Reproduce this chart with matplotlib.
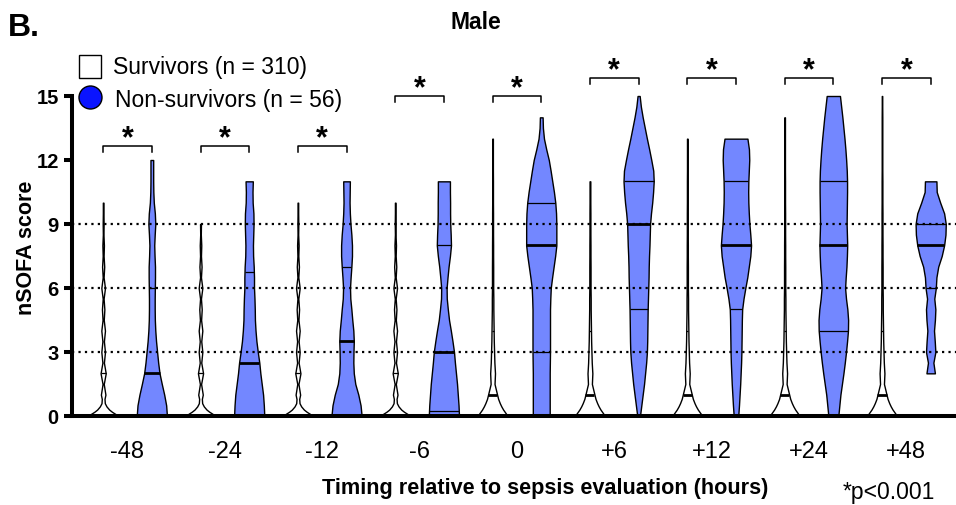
import numpy as np
import matplotlib.pyplot as plt
from matplotlib.patches import Rectangle, Circle

plt.rcParams['font.family'] = ['Liberation Sans', 'DejaVu Sans']

# ---------------- data ----------------
timepoints = ['-48', '-24', '-12', '-6', '0', '+6', '+12', '+24', '+48']

# survivors: density shape (relative width) before / after sepsis evaluation
surv_levels = [0, 0.1, 0.2, 0.3, 0.45, 0.6, 0.8, 1, 1.5, 2, 2.5, 3, 3.5, 4, 4.5,
               5, 5.5, 6, 6.5, 7, 7.5, 8, 8.5, 9, 9.5, 10, 10.5, 11, 11.5, 12,
               12.5, 13, 13.5, 14, 14.5, 15]
surv_dens_pre = [1.0, 0.8, 0.58, 0.4, 0.22, 0.11, 0.09, 0.15, 0.04, 0.17, 0.05,
                 0.12, 0.05, 0.12, 0.04, 0.08, 0.03, 0.12, 0.03, 0.07, 0.03,
                 0.05, 0.02, 0.03, 0.02, 0.02, 0.02, 0.02, 0.02, 0.02, 0.02,
                 0.02, 0.02, 0.02, 0.02, 0.02]
surv_dens_post = [1.0, 0.9, 0.8, 0.7, 0.58, 0.48, 0.37, 0.3, 0.13, 0.16, 0.12,
                  0.1, 0.08, 0.07, 0.06, 0.05, 0.05, 0.04, 0.04, 0.04, 0.035,
                  0.035, 0.03, 0.03, 0.03, 0.025, 0.025, 0.025, 0.02, 0.02,
                  0.02, 0.02, 0.02, 0.02, 0.015, 0.015]
surv_max = [10, 9, 10, 10, 13, 11, 13, 14, 15]
surv_q1 = [0, 0, 0, 0, 0, 0, 0, 0, 0]
surv_median = [0, 0, 0, 0, 1, 1, 1, 1, 1]
surv_q3 = [2, 2, 2, 2, 4, 4, 4, 4, 4]

# non-survivors: density sampled on the half-point score grid
score_grid = [0, 0.5, 1, 1.5, 2, 2.5, 3, 3.5, 4, 4.5, 5, 5.5, 6, 6.5, 7, 7.5,
              8, 8.5, 9, 9.5, 10, 10.5, 11, 11.5, 12, 12.5, 13, 13.5, 14,
              14.5, 15]
ns_min = [0, 0, 0, 0, 0, 0, 0, 0, 2]
ns_max = [12, 11, 11, 11, 14, 15, 13, 15, 11]
ns_q1 = [0, 0, 0, 0.25, 3, 5, 5, 4, 6]
ns_median = [2, 2.5, 3.5, 3, 8, 9, 8, 8, 8]
ns_q3 = [6, 6.75, 7, 8, 10, 11, 11, 11, 9]

ns_dens_m48 = [1.0, 0.95, 0.82, 0.66, 0.51, 0.42, 0.35, 0.28, 0.23, 0.2, 0.19,
               0.19, 0.2, 0.21, 0.21, 0.18, 0.16, 0.19, 0.23, 0.2, 0.13, 0.1,
               0.09, 0.09, 0.09]
ns_dens_m24 = [1.0, 0.97, 0.92, 0.83, 0.74, 0.67, 0.57, 0.48, 0.42, 0.38, 0.37,
               0.35, 0.32, 0.32, 0.3, 0.26, 0.25, 0.27, 0.29, 0.28, 0.23, 0.22,
               0.24]
ns_dens_m12 = [1.0, 0.93, 0.78, 0.58, 0.48, 0.45, 0.46, 0.48, 0.45, 0.38, 0.32,
               0.25, 0.23, 0.27, 0.32, 0.36, 0.36, 0.32, 0.26, 0.22, 0.2, 0.21,
               0.22]
ns_dens_m6 = [1.0, 0.97, 0.92, 0.87, 0.8, 0.73, 0.67, 0.57, 0.46, 0.34, 0.26,
              0.19, 0.18, 0.24, 0.31, 0.4, 0.47, 0.45, 0.42, 0.41, 0.41, 0.4,
              0.4]
ns_dens_0 = [0.56, 0.56, 0.56, 0.56, 0.56, 0.57, 0.58, 0.58, 0.58, 0.58, 0.58,
             0.6, 0.63, 0.72, 0.82, 0.92, 1.0, 1.0, 1.0, 0.98, 0.93, 0.84,
             0.73, 0.62, 0.5, 0.33, 0.18, 0.11, 0.09]
ns_dens_p6 = [0.09, 0.18, 0.27, 0.36, 0.43, 0.5, 0.55, 0.57, 0.58, 0.59, 0.6,
              0.62, 0.64, 0.66, 0.67, 0.69, 0.72, 0.74, 0.76, 0.82, 0.9, 0.96,
              1.0, 0.97, 0.84, 0.7, 0.55, 0.41, 0.27, 0.15, 0.07]
ns_dens_p12 = [0.15, 0.2, 0.24, 0.28, 0.31, 0.34, 0.36, 0.37, 0.38, 0.39, 0.41,
               0.5, 0.62, 0.75, 0.85, 0.95, 1.0, 0.95, 0.89, 0.85, 0.82, 0.81,
               0.82, 0.85, 0.88, 0.86, 0.76]
ns_dens_p24 = [0.33, 0.4, 0.47, 0.57, 0.67, 0.76, 0.84, 0.91, 0.97, 0.98, 0.93,
               0.84, 0.78, 0.82, 0.87, 0.9, 0.92, 0.9, 0.88, 0.89, 0.9, 0.91,
               0.91, 0.89, 0.85, 0.8, 0.74, 0.67, 0.6, 0.52, 0.44]
ns_dens_p48 = [0.28, 0.18, 0.31, 0.27, 0.22, 0.28, 0.31, 0.24, 0.34, 0.38, 0.5,
               0.73, 0.89, 0.98, 1.0, 0.89, 0.63, 0.4, 0.38]
ns_dens = [ns_dens_m48, ns_dens_m24, ns_dens_m12, ns_dens_m6, ns_dens_0,
           ns_dens_p6, ns_dens_p12, ns_dens_p24, ns_dens_p48]

# ---------------- style ----------------
BLUE_FILL = '#7387ff'
HALF = 0.155          # max half width of a violin (x units)
OFFSET = 0.25         # survivors left, non-survivors right
bracket_y = [12.66, 12.66, 12.66, 15.0, 15.0, 15.85, 15.85, 15.85, 15.85]

fig = plt.figure(figsize=(9.56, 5.06), dpi=100)
ax = fig.add_axes([72 / 956, 89 / 506, 884 / 956, 320 / 506])


def violin(x, levels, dens, color, q1, med, q3):
    y = np.asarray(levels, float)
    w = np.asarray(dens, float) * HALF
    ax.fill_betweenx(y, x - w, x + w, facecolor=color, edgecolor='black',
                     linewidth=1.0, zorder=2, clip_on=False)
    for q, lw in ((q1, 0.9), (q3, 0.9), (med, 2.0)):
        hw = np.interp(q, y, w)
        ax.plot([x - hw, x + hw], [q, q], color='black', lw=lw,
                solid_capstyle='butt', zorder=3, clip_on=False)


for i in range(len(timepoints)):
    # survivors
    sl = np.asarray(surv_levels)
    sd = np.asarray(surv_dens_pre if i < 4 else surv_dens_post)
    keep = sl <= surv_max[i]
    violin(i - OFFSET, sl[keep], sd[keep], 'white',
           surv_q1[i], surv_median[i], surv_q3[i])

    # non-survivors
    g = np.asarray(score_grid)
    lv = g[(g >= ns_min[i]) & (g <= ns_max[i])]
    violin(i + OFFSET, lv, ns_dens[i], BLUE_FILL,
           ns_q1[i], ns_median[i], ns_q3[i])

    # significance bracket
    b = bracket_y[i]
    leg = 0.3
    ax.plot([i - OFFSET, i - OFFSET, i + OFFSET, i + OFFSET],
            [b - leg, b, b, b - leg], color='black', lw=1.1, clip_on=False,
            zorder=3)
    ax.annotate('*', xy=(i, b), xytext=(0, 0), textcoords='offset points',
                ha='center', va='baseline', fontsize=22, fontweight='bold',
                annotation_clip=False)

for yv in (3, 6, 9):
    ax.axhline(yv, color='black', lw=1.6, linestyle=(0, (1, 1.9)), zorder=4)

ax.set_xlim(-0.57, 8.51)
ax.set_ylim(0, 15)
ax.set_yticks([0, 3, 6, 9, 12, 15])
ax.set_xticks(range(len(timepoints)))
ax.set_xticklabels(timepoints, fontsize=17)
for lab in ax.get_yticklabels():
    lab.set_fontweight('bold')
    lab.set_fontsize(14.5)
ax.tick_params(axis='x', length=0, pad=17)
ax.tick_params(axis='y', length=6, width=2.9, pad=3.5)

for side in ('top', 'right'):
    ax.spines[side].set_visible(False)
for side in ('left', 'bottom'):
    ax.spines[side].set_linewidth(2.9)

ax.set_ylabel('nSOFA score', fontsize=15.5, fontweight='bold')
ax.yaxis.set_label_coords(-0.04, 0.528)
ax.set_xlabel('Timing relative to sepsis evaluation (hours)',
              fontsize=15.6, fontweight='bold')
ax.xaxis.set_label_coords(0.535, -0.19)

# panel letter, title, legend and footnote in pixel coordinates
ov = fig.add_axes([0, 0, 1, 1])
ov.set_xlim(0, 956)
ov.set_ylim(506, 0)
ov.axis('off')
ov.text(8, 36, 'B.', fontsize=23, fontweight='bold', va='baseline')
ov.text(476, 29, 'Male', fontsize=16.5, fontweight='bold', ha='center',
        va='baseline')
ov.add_patch(Rectangle((79, 56), 22, 23, facecolor='white',
                       edgecolor='black', lw=1.0))
ov.add_patch(Circle((90.5, 98.5), 11.5, facecolor='#0a14ff',
                    edgecolor='black', lw=1.0))
ov.text(113, 74, 'Survivors (n = 310)', fontsize=16.5, va='baseline')
ov.text(115, 106.5, 'Non-survivors (n = 56)', fontsize=16.5, va='baseline')
ov.text(935, 499, '*p<0.001', fontsize=16.5, ha='right', va='baseline')

fig.savefig('out.png', dpi=100)
